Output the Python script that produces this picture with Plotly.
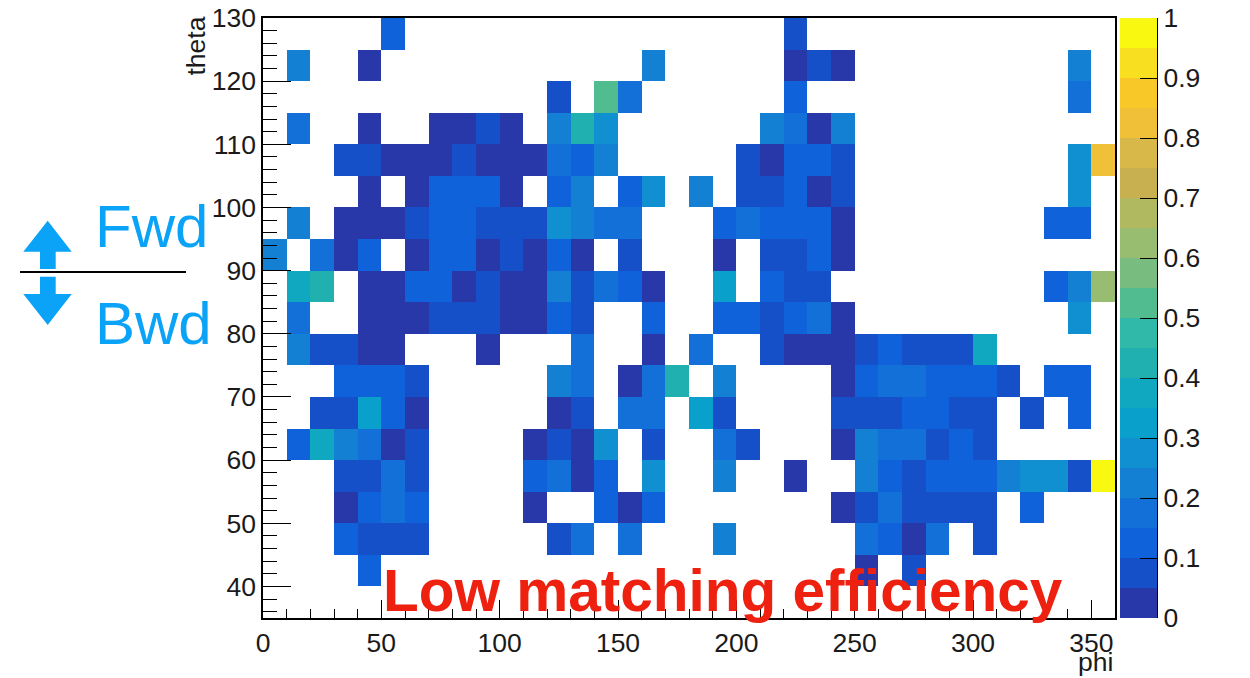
import plotly.graph_objects as go

_ = None
# bin centres
phi_centers = [5, 15, 25, 35, 45, 55, 65, 75, 85, 95, 105, 115, 125, 135, 145, 155, 165, 175,
               185, 195, 205, 215, 225, 235, 245, 255, 265, 275, 285, 295, 305, 315, 325, 335, 345, 355]
theta_centers = [37.5, 42.5, 47.5, 52.5, 57.5, 62.5, 67.5, 72.5, 77.5, 82.5,
                 87.5, 92.5, 97.5, 102.5, 107.5, 112.5, 117.5, 122.5, 127.5]

# efficiency per theta row (36 phi bins each), labelled by lower theta edge
r125 = [_,_,_,_,_,.12,_,_,_,_,  _,_,_,_,_,_,_,_,_,_,  _,_,.08,_,_,_,_,_,_,_,  _,_,_,_,_,_]
r120 = [_,.22,_,_,.03,_,_,_,_,_,  _,_,_,_,_,_,.22,_,_,_,  _,_,.03,.08,.03,_,_,_,_,_,  _,_,_,_,.22,_]
r115 = [_,_,_,_,_,_,_,_,_,_,  _,_,.08,_,.52,.17,_,_,_,_,  _,_,.12,_,_,_,_,_,_,_,  _,_,_,_,.17,_]
r110 = [_,.17,_,_,.03,_,_,.03,.03,.08,  .03,_,.22,.42,.28,_,_,_,_,_,  _,.22,.17,.03,.22,_,_,_,_,_,  _,_,_,_,_,_]
r105 = [_,_,_,.08,.08,.03,.03,.03,.08,.03,  .03,.03,.17,.12,.22,_,_,_,_,_,  .08,.03,.12,.12,.08,_,_,_,_,_,  _,_,_,_,.28,.82]
r100 = [_,_,_,_,.03,_,.03,.12,.12,.13,  .03,_,.12,.22,_,.12,.28,_,.22,_,  .08,.08,.12,.03,.08,_,_,_,_,_,  _,_,_,_,.28,_]
r95 = [_,.22,_,.03,.03,.03,.08,.12,.12,.08,  .08,.08,.28,.22,.17,.17,_,_,_,.12,  .17,.12,.12,.12,.03,_,_,_,_,_,  _,_,_,.12,.12,_]
r90 = [.22,_,.17,.03,.12,_,.03,.12,.12,.03,  .09,.03,.12,.03,_,.08,_,_,_,.03,  _,.08,.08,.12,.03,_,_,_,_,_,  _,_,_,_,_,_]
r85 = [_,.37,.42,_,.03,.03,.12,.12,.03,.08,  .03,.03,.22,.08,.17,.12,.03,_,_,.32,  _,.12,.08,.08,_,_,_,_,_,_,  _,_,_,.12,.22,.62]
r80 = [_,.17,_,_,.03,.03,.03,.08,.08,.08,  .03,.03,.12,.08,_,_,.12,_,_,.12,  .12,.08,.12,.18,.03,_,_,_,_,_,  _,_,_,_,.28,_]
r75 = [_,.22,.08,.08,.03,.03,_,_,_,.03,  _,_,_,.17,_,_,.03,_,.17,_,  _,.08,.03,.03,.03,.08,.12,.08,.08,.08,  .37,_,_,_,_,_]
r70 = [_,_,_,.12,.12,.12,.08,_,_,_,  _,_,.22,.17,_,.03,.17,.42,_,.22,  _,_,_,_,.03,.12,.17,.17,.12,.12,  .12,.08,_,.12,.12,_]
r65 = [_,_,.08,.08,.31,.12,.03,_,_,_,  _,_,.03,.08,_,.17,.17,_,.32,.08,  _,_,_,_,.08,.08,.08,.12,.12,.08,  .08,_,.08,_,.12,_]
r60 = [_,.12,.36,.22,.17,.03,.08,_,_,_,  _,.03,.08,.03,.28,_,.08,_,_,.17,  .08,_,_,_,.03,.23,.17,.17,.08,.12,  .08,_,_,_,_,_]
r55 = [_,_,_,.08,.08,.17,.08,_,_,_,  _,.12,.17,.03,.12,_,.28,_,_,.22,  _,_,.03,_,_,.22,.14,.08,.12,.12,  .12,.22,.28,.28,.08,.98]
r50 = [_,_,_,.03,.12,.17,.12,_,_,_,  _,.03,_,_,.12,.03,.12,_,_,_,  _,_,_,_,.03,.08,.17,.08,.08,.08,  .08,_,.12,_,_,_]
r45 = [_,_,_,.12,.08,.08,.08,_,_,_,  _,_,.08,.17,_,.17,_,_,_,.22,  _,_,_,_,_,.17,.12,.03,.17,_,  .08,_,_,_,_,_]
r40 = [_,_,_,_,.12,_,_,_,_,_,  _,_,_,_,_,_,_,_,_,_,  _,_,_,_,_,.03,_,.08,_,_,  _,_,_,_,_,_]
r35 = [_,_,_,_,_,_,_,_,_,_,  _,_,_,_,_,_,_,_,_,_,  _,_,_,_,_,_,_,_,_,_,  _,_,_,_,_,_]

z = [r35, r40, r45, r50, r55, r60, r65, r70, r75, r80,
     r85, r90, r95, r100, r105, r110, r115, r120, r125]

# colour bar: 20 contour bands of 0.05
band_centers = [0.025, 0.075, 0.125, 0.175, 0.225, 0.275, 0.325, 0.375, 0.425, 0.475,
                0.525, 0.575, 0.625, 0.675, 0.725, 0.775, 0.825, 0.875, 0.925, 0.975]
band_colors = ["#2838A8", "#1650C8", "#0F62DA", "#1270D8", "#1480D4", "#1090D0", "#0AA0CC",
               "#10A8C0", "#20B0B0", "#30B8A8", "#50BC90", "#78BC80", "#98BC70", "#B0B860",
               "#C8B050", "#D8B848", "#F0C038", "#F8C828", "#F8E020", "#F8F810"]
cbar_vals = [0, 0.1, 0.2, 0.3, 0.4, 0.5, 0.6, 0.7, 0.8, 0.9, 1]
cbar_text = ["0", "0.1", "0.2", "0.3", "0.4", "0.5", "0.6", "0.7", "0.8", "0.9", "1"]

W, H = 1250, 678
FR_L, FR_T, FR_R, FR_B = 263, 18, 1115, 618   # frame of the main plot (px)
CB_L, CB_R = 1120, 1157                        # colour bar (px)
L, T = FR_L, FR_T
R = W - CB_R
B = H - FR_B
AW = CB_R - FR_L
AH = FR_B - FR_T


def px(x):
    """pixel x -> paper x"""
    return (x - FR_L) / AW


def py(y):
    """pixel y -> paper y"""
    return (FR_B - y) / AH


colorscale = []
n = len(band_colors)
for i, c in enumerate(band_colors):
    colorscale.append([i / n, c])
    colorscale.append([(i + 1) / n, c])

FONT = "Liberation Sans, Arial, Helvetica, sans-serif"
TXT = "#1a1a1a"
BLUE = "#0BA3F7"
LBL = 26.5

fig = go.Figure()
fig.add_trace(go.Heatmap(
    x=phi_centers, y=theta_centers, z=z, zmin=0, zmax=1,
    colorscale=colorscale, hoverongaps=False, showscale=False,
    xaxis="x", yaxis="y",
))
fig.add_trace(go.Heatmap(
    x=[0], y=band_centers, z=[[v] for v in band_centers], zmin=0, zmax=1,
    colorscale=colorscale, showscale=False, hoverinfo="skip",
    xaxis="x2", yaxis="y2",
))

axis_common = dict(
    showgrid=False, zeroline=False, showline=True, linecolor="black", linewidth=1.5,
    mirror=True, ticks="inside", tickcolor="black", tickwidth=1, automargin=False,
    tickfont=dict(family=FONT, size=LBL, color=TXT), ticklabeloverflow="allow",
)

fig.update_layout(
    xaxis=dict(domain=[0, px(FR_R)], range=[0, 360], tick0=0, dtick=50, ticklen=18,
               minor=dict(dtick=10, tick0=0, ticklen=9, ticks="inside", tickcolor="black", tickwidth=1),
               anchor="y", **axis_common),
    yaxis=dict(domain=[0, 1], range=[35, 130], tick0=0, dtick=10, ticklen=28,
               minor=dict(dtick=2, tick0=0, ticklen=14, ticks="inside", tickcolor="black", tickwidth=1),
               anchor="x", **axis_common),
    xaxis2=dict(domain=[px(CB_L), 1], range=[-0.5, 0.5], visible=False, anchor="y2",
                fixedrange=True, automargin=False),
    yaxis2=dict(domain=[0, 1], range=[0, 1], anchor="x2", side="right", automargin=False,
                showgrid=False, zeroline=False, showline=True, linecolor="black", linewidth=1.2,
                ticks="inside", ticklen=17, tickwidth=1.2, tickcolor="black",
                tickmode="array", tickvals=cbar_vals, ticktext=cbar_text,
                tickfont=dict(family=FONT, size=LBL, color=TXT), ticklabeloverflow="allow",
                fixedrange=True),
)

up_arrow = [(47.7, 220.7), (71.7, 251.7), (55.7, 251.7), (55.7, 269), (40, 269), (40, 251.7), (23.3, 251.7)]
down_arrow = [(40, 276.7), (55.7, 276.7), (55.7, 294), (71.7, 294), (47.7, 325), (23.3, 294), (40, 294)]


def poly(pts):
    return "M " + " L ".join(f"{px(a):.5f},{py(b):.5f}" for a, b in pts) + " Z"


shapes = [
    dict(type="path", xref="paper", yref="paper", path=poly(up_arrow), fillcolor=BLUE, line=dict(width=0)),
    dict(type="path", xref="paper", yref="paper", path=poly(down_arrow), fillcolor=BLUE, line=dict(width=0)),
    dict(type="line", xref="paper", yref="paper", x0=px(20), x1=px(186), y0=py(272), y1=py(272),
         line=dict(color="black", width=2)),
]

annotations = [
    dict(text="theta", textangle=-90, xref="paper", yref="paper", x=px(195), y=py(15),
         xanchor="center", yanchor="top", showarrow=False,
         font=dict(family=FONT, size=LBL, color=TXT)),
    dict(text="phi", xref="paper", yref="paper", x=px(1115), y=py(662),
         xanchor="right", yanchor="middle", showarrow=False,
         font=dict(family=FONT, size=LBL, color=TXT)),
    dict(text="<b>Low matching efficiency</b>", xref="paper", yref="paper", x=px(381), y=py(590),
         xanchor="left", yanchor="middle", showarrow=False,
         font=dict(family=FONT, size=58.5, color="#EE2010")),
    dict(text="Fwd", xref="paper", yref="paper", x=px(93), y=py(226),
         xanchor="left", yanchor="middle", showarrow=False,
         font=dict(family=FONT, size=60, color=BLUE)),
    dict(text="Bwd", xref="paper", yref="paper", x=px(93), y=py(323),
         xanchor="left", yanchor="middle", showarrow=False,
         font=dict(family=FONT, size=60, color=BLUE)),
]

fig.update_layout(
    width=W, height=H, margin=dict(l=L, r=R, t=T, b=B, pad=0, autoexpand=False),
    paper_bgcolor="white", plot_bgcolor="white",
    shapes=shapes, annotations=annotations, showlegend=False,
    font=dict(family=FONT, color=TXT),
)

# drop the page's default 8px body margin so the 1250x678 figure fills the window exactly
fig.write_html("out.html", config={"displayModeBar": False},
               post_script="document.body.style.margin='0px';document.body.style.overflow='hidden';")
